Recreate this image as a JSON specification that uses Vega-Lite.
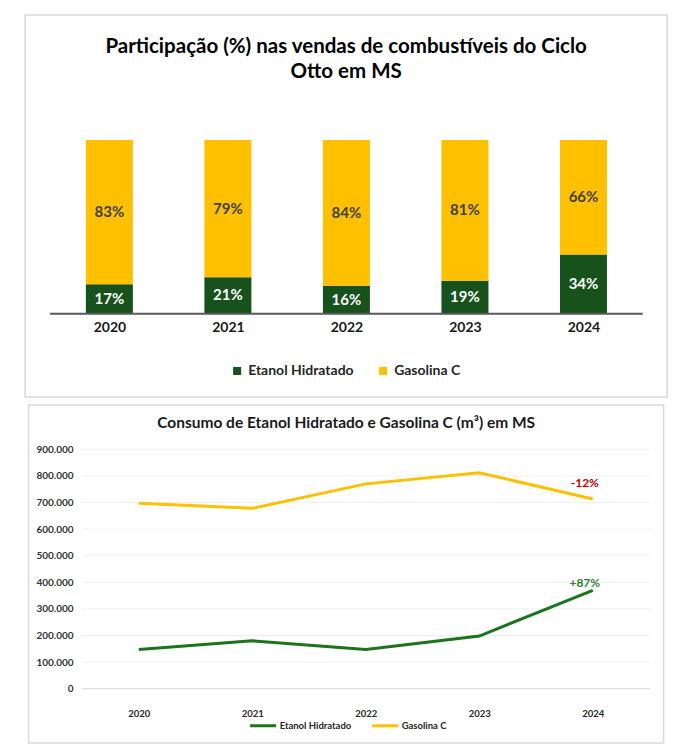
{
  "$schema": "https://vega.github.io/schema/vega-lite/v6.json",
  "background": "white",
  "padding": {"left": 24, "top": 14, "right": 0, "bottom": 0},
  "datasets": {
    "participacao": [
      {"ano": 2020, "serie": "Etanol Hidratado", "pct": 0.17},
      {"ano": 2020, "serie": "Gasolina C", "pct": 0.83},
      {"ano": 2021, "serie": "Etanol Hidratado", "pct": 0.21},
      {"ano": 2021, "serie": "Gasolina C", "pct": 0.79},
      {"ano": 2022, "serie": "Etanol Hidratado", "pct": 0.16},
      {"ano": 2022, "serie": "Gasolina C", "pct": 0.84},
      {"ano": 2023, "serie": "Etanol Hidratado", "pct": 0.19},
      {"ano": 2023, "serie": "Gasolina C", "pct": 0.81},
      {"ano": 2024, "serie": "Etanol Hidratado", "pct": 0.34},
      {"ano": 2024, "serie": "Gasolina C", "pct": 0.66}
    ],
    "base": [{"pct": 0}],
    "consumo": [
      {"ano": 2020, "serie": "Etanol Hidratado", "m3": 147000},
      {"ano": 2021, "serie": "Etanol Hidratado", "m3": 180000},
      {"ano": 2022, "serie": "Etanol Hidratado", "m3": 147000},
      {"ano": 2023, "serie": "Etanol Hidratado", "m3": 198000},
      {"ano": 2024, "serie": "Etanol Hidratado", "m3": 370000, "variacao": "+87%"},
      {"ano": 2020, "serie": "Gasolina C", "m3": 697000},
      {"ano": 2021, "serie": "Gasolina C", "m3": 678000},
      {"ano": 2022, "serie": "Gasolina C", "m3": 770000},
      {"ano": 2023, "serie": "Gasolina C", "m3": 812000},
      {"ano": 2024, "serie": "Gasolina C", "m3": 713000, "variacao": "-12%"}
    ],
    "grade": [
      {"m3": 0}, {"m3": 100000}, {"m3": 200000}, {"m3": 300000}, {"m3": 400000},
      {"m3": 500000}, {"m3": 600000}, {"m3": 700000}, {"m3": 800000}, {"m3": 900000}
    ]
  },
  "config": {
    "font": "Lato",
    "view": {"stroke": "#D9D9D9", "strokeWidth": 1.5},
    "locale": {"number": {"decimal": ",", "thousands": ".", "grouping": [3], "currency": ["R$ ", ""]}}
  },
  "spacing": 6,
  "center": true,
  "resolve": {
    "scale": {"color": "independent", "x": "independent", "y": "independent"},
    "legend": {"color": "independent"}
  },
  "vconcat": [
    {
      "width": 642,
      "height": 382,
      "title": {
        "text": ["Participação (%) nas vendas de combustíveis do Ciclo", "Otto em MS"],
        "font": "Lato",
        "fontSize": 20.5,
        "fontWeight": "bold",
        "color": "#000000",
        "anchor": "middle",
        "frame": "group",
        "lineHeight": 25,
        "offset": -67
      },
      "data": {"name": "participacao"},
      "layer": [
        {
          "mark": {"type": "bar", "size": 47},
          "encoding": {
            "x": {
              "field": "ano", "type": "quantitative",
              "scale": {"domain": [2019.3314, 2024.6636], "nice": false, "zero": false},
              "axis": {
                "values": [2020, 2021, 2022, 2023, 2024], "format": "d", "title": null,
                "offset": -83.3, "domain": false, "ticks": false, "tickSize": 0, "grid": false,
                "labelPadding": 7, "labelFont": "Lato", "labelFontSize": 14, "labelFontWeight": "bold",
                "labelColor": "#1A1A1A"
              }
            },
            "y": {
              "field": "pct", "type": "quantitative", "stack": "zero",
              "scale": {"domain": [-0.48, 1.72], "nice": false, "zero": false},
              "axis": null
            },
            "color": {
              "field": "serie", "type": "nominal",
              "scale": {"domain": ["Etanol Hidratado", "Gasolina C"], "range": ["#17521C", "#FFC000"]},
              "legend": {
                "title": null, "orient": "none", "direction": "horizontal",
                "legendX": 205, "legendY": 349,
                "symbolType": "square", "symbolSize": 64, "symbolStrokeWidth": 0,
                "labelFont": "Lato", "labelFontSize": 14, "labelFontWeight": "bold",
                "labelColor": "#262626", "labelOffset": 4, "columnPadding": 22
              }
            },
            "order": {"field": "serie", "sort": "ascending"}
          }
        },
        {
          "data": {"name": "base"},
          "mark": {"type": "rule", "color": "#595959", "strokeWidth": 2},
          "encoding": {
            "y": {
              "field": "pct", "type": "quantitative",
              "scale": {"domain": [-0.48, 1.72], "nice": false, "zero": false},
              "axis": null
            },
            "x": {
              "datum": 2019.5, "type": "quantitative",
              "scale": {"domain": [2019.3314, 2024.6636], "nice": false, "zero": false},
              "axis": {
                "values": [2020, 2021, 2022, 2023, 2024], "format": "d", "title": null,
                "offset": -83.3, "domain": false, "ticks": false, "tickSize": 0, "grid": false,
                "labelPadding": 7, "labelFont": "Lato", "labelFontSize": 14, "labelFontWeight": "bold",
                "labelColor": "#1A1A1A"
              }
            },
            "x2": {"datum": 2024.5}
          }
        },
        {
          "mark": {"type": "text", "font": "Lato", "fontSize": 15, "fontWeight": "bold", "baseline": "middle", "align": "center"},
          "encoding": {
            "x": {
              "field": "ano", "type": "quantitative",
              "scale": {"domain": [2019.3314, 2024.6636], "nice": false, "zero": false},
              "axis": {
                "values": [2020, 2021, 2022, 2023, 2024], "format": "d", "title": null,
                "offset": -83.3, "domain": false, "ticks": false, "tickSize": 0, "grid": false,
                "labelPadding": 7, "labelFont": "Lato", "labelFontSize": 14, "labelFontWeight": "bold",
                "labelColor": "#1A1A1A"
              }
            },
            "y": {
              "field": "pct", "type": "quantitative", "stack": "zero", "bandPosition": 0.5,
              "scale": {"domain": [-0.48, 1.72], "nice": false, "zero": false},
              "axis": null
            },
            "order": {"field": "serie", "sort": "ascending"},
            "text": {"field": "pct", "type": "quantitative", "format": ".0%"},
            "color": {
              "condition": {"test": "datum.serie === 'Etanol Hidratado'", "value": "#FFFFFF"},
              "value": "#404040"
            }
          }
        }
      ]
    },
    {
      "width": 635,
      "height": 338,
      "title": {
        "text": "Consumo de Etanol Hidratado e Gasolina C (m³) em MS",
        "font": "Lato",
        "fontSize": 15.5,
        "fontWeight": "bold",
        "color": "#1A1A1A",
        "anchor": "middle",
        "frame": "group",
        "offset": -26
      },
      "layer": [
        {
          "data": {"name": "grade"},
          "mark": {"type": "rule", "strokeWidth": 1},
          "encoding": {
            "y": {
              "field": "m3", "type": "quantitative",
              "scale": {"domain": [-204100, 1066500], "nice": false, "zero": false},
              "axis": {
                "values": [0, 100000, 200000, 300000, 400000, 500000, 600000, 700000, 800000, 900000],
                "format": ",d", "title": null,
                "offset": -54.2, "domain": false, "ticks": false, "tickSize": 0, "grid": false,
                "labelPadding": 9.7, "labelFont": "Lato", "labelFontSize": 10, "labelFontWeight": "bold",
                "labelColor": "#333333"
              }
            },
            "x": {
              "datum": 2019.5, "type": "quantitative",
              "scale": {"domain": [2019.029, 2024.624], "nice": false, "zero": false},
              "axis": {
                "values": [2020, 2021, 2022, 2023, 2024], "format": "d", "title": null,
                "offset": -54.3, "domain": false, "ticks": false, "tickSize": 0, "grid": false,
                "labelPadding": 20, "labelFont": "Lato", "labelFontSize": 9.5, "labelFontWeight": "bold",
                "labelColor": "#262626"
              }
            },
            "x2": {"datum": 2024.5},
            "color": {
              "condition": {"test": "datum.m3 === 0", "value": "#D9D9D9"},
              "value": "#EFEFEF"
            }
          }
        },
        {
          "data": {"name": "consumo"},
          "mark": {"type": "line", "strokeWidth": 3},
          "encoding": {
            "x": {
              "field": "ano", "type": "quantitative",
              "scale": {"domain": [2019.029, 2024.624], "nice": false, "zero": false},
              "axis": {
                "values": [2020, 2021, 2022, 2023, 2024], "format": "d", "title": null,
                "offset": -54.3, "domain": false, "ticks": false, "tickSize": 0, "grid": false,
                "labelPadding": 20, "labelFont": "Lato", "labelFontSize": 9.5, "labelFontWeight": "bold",
                "labelColor": "#262626"
              }
            },
            "y": {
              "field": "m3", "type": "quantitative",
              "scale": {"domain": [-204100, 1066500], "nice": false, "zero": false},
              "axis": {
                "values": [0, 100000, 200000, 300000, 400000, 500000, 600000, 700000, 800000, 900000],
                "format": ",d", "title": null,
                "offset": -54.2, "domain": false, "ticks": false, "tickSize": 0, "grid": false,
                "labelPadding": 9.7, "labelFont": "Lato", "labelFontSize": 10, "labelFontWeight": "bold",
                "labelColor": "#333333"
              }
            },
            "color": {
              "field": "serie", "type": "nominal",
              "scale": {"domain": ["Etanol Hidratado", "Gasolina C"], "range": ["#1B741B", "#FFC000"]},
              "legend": {
                "title": null, "orient": "none", "direction": "horizontal",
                "legendX": 220, "legendY": 306,
                "symbolType": "stroke", "symbolSize": 676, "symbolStrokeWidth": 3,
                "labelFont": "Lato", "labelFontSize": 9.5, "labelFontWeight": "bold",
                "labelColor": "#262626", "labelOffset": 2, "columnPadding": 14
              }
            }
          }
        },
        {
          "data": {"name": "consumo"},
          "transform": [{"filter": "datum.serie === 'Gasolina C' && datum.variacao"}],
          "mark": {"type": "text", "font": "Lato", "fontSize": 12, "fontWeight": "bold", "color": "#C00000", "dx": -8, "dy": -15.6, "baseline": "middle"},
          "encoding": {
            "x": {
              "field": "ano", "type": "quantitative",
              "scale": {"domain": [2019.029, 2024.624], "nice": false, "zero": false},
              "axis": {
                "values": [2020, 2021, 2022, 2023, 2024], "format": "d", "title": null,
                "offset": -54.3, "domain": false, "ticks": false, "tickSize": 0, "grid": false,
                "labelPadding": 20, "labelFont": "Lato", "labelFontSize": 9.5, "labelFontWeight": "bold",
                "labelColor": "#262626"
              }
            },
            "y": {
              "field": "m3", "type": "quantitative",
              "scale": {"domain": [-204100, 1066500], "nice": false, "zero": false},
              "axis": {
                "values": [0, 100000, 200000, 300000, 400000, 500000, 600000, 700000, 800000, 900000],
                "format": ",d", "title": null,
                "offset": -54.2, "domain": false, "ticks": false, "tickSize": 0, "grid": false,
                "labelPadding": 9.7, "labelFont": "Lato", "labelFontSize": 10, "labelFontWeight": "bold",
                "labelColor": "#333333"
              }
            },
            "text": {"field": "variacao"}
          }
        },
        {
          "data": {"name": "consumo"},
          "transform": [{"filter": "datum.serie === 'Etanol Hidratado' && datum.variacao"}],
          "mark": {"type": "text", "font": "Lato", "fontSize": 12, "fontWeight": "bold", "color": "#2E7D32", "dx": -8, "dy": -7.3, "baseline": "middle"},
          "encoding": {
            "x": {
              "field": "ano", "type": "quantitative",
              "scale": {"domain": [2019.029, 2024.624], "nice": false, "zero": false},
              "axis": {
                "values": [2020, 2021, 2022, 2023, 2024], "format": "d", "title": null,
                "offset": -54.3, "domain": false, "ticks": false, "tickSize": 0, "grid": false,
                "labelPadding": 20, "labelFont": "Lato", "labelFontSize": 9.5, "labelFontWeight": "bold",
                "labelColor": "#262626"
              }
            },
            "y": {
              "field": "m3", "type": "quantitative",
              "scale": {"domain": [-204100, 1066500], "nice": false, "zero": false},
              "axis": {
                "values": [0, 100000, 200000, 300000, 400000, 500000, 600000, 700000, 800000, 900000],
                "format": ",d", "title": null,
                "offset": -54.2, "domain": false, "ticks": false, "tickSize": 0, "grid": false,
                "labelPadding": 9.7, "labelFont": "Lato", "labelFontSize": 10, "labelFontWeight": "bold",
                "labelColor": "#333333"
              }
            },
            "text": {"field": "variacao"}
          }
        }
      ]
    }
  ]
}
